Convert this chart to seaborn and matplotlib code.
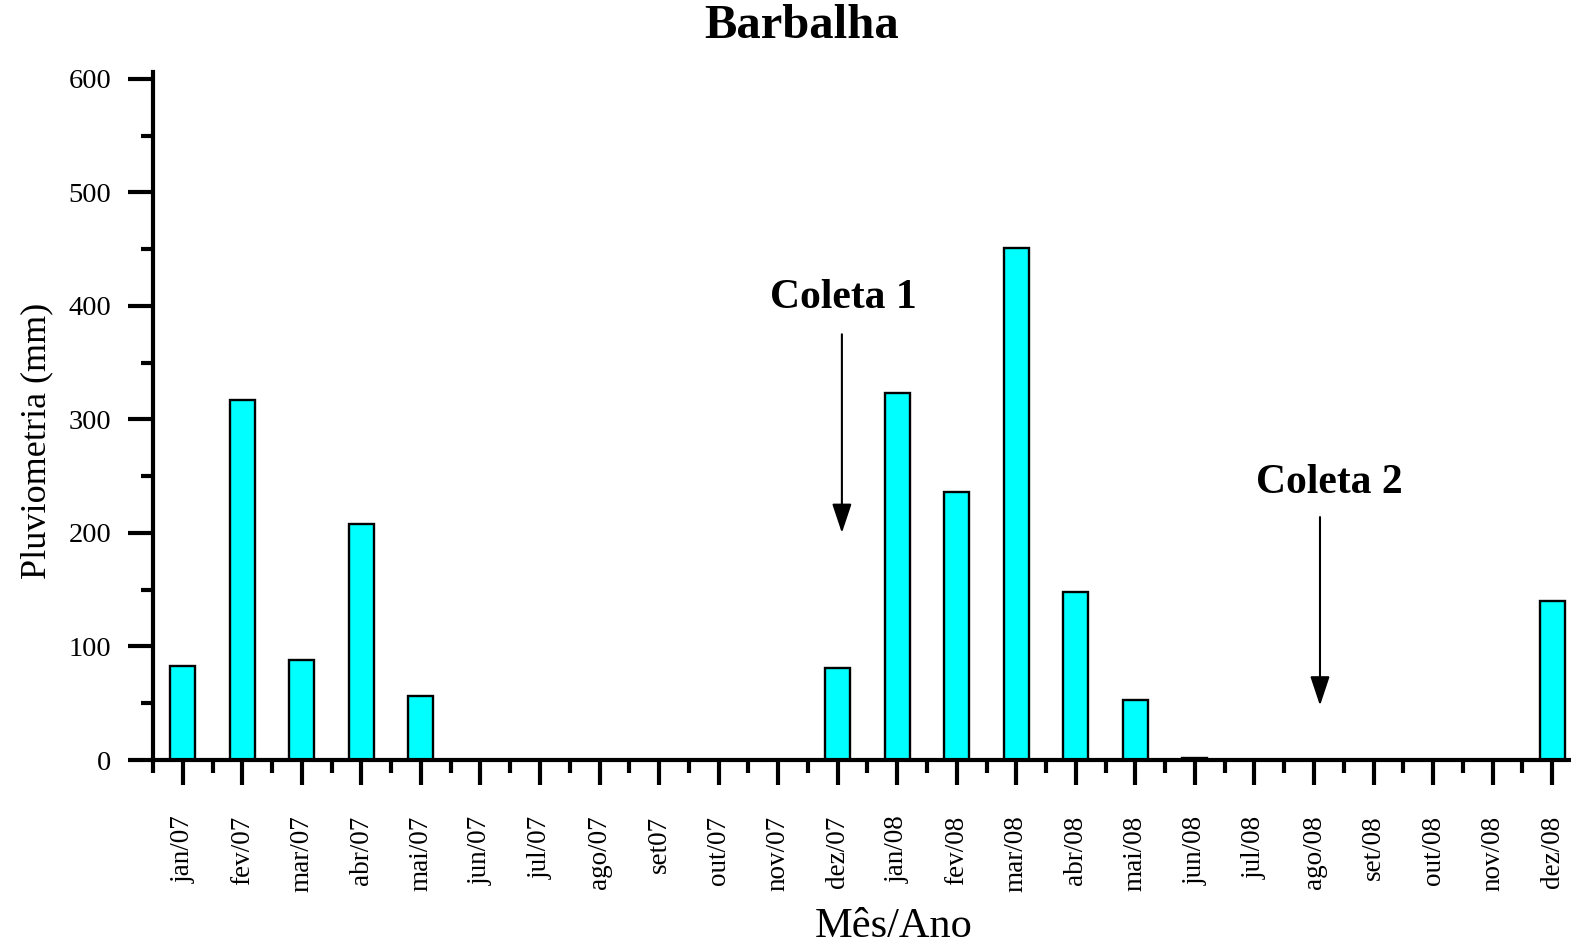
import matplotlib
matplotlib.use("Agg")
import matplotlib.pyplot as plt
import seaborn as sns
import pandas as pd
import numpy as np

months = ["jan/07", "fev/07", "mar/07", "abr/07", "mai/07", "jun/07", "jul/07", "ago/07",
          "set07", "out/07", "nov/07", "dez/07", "jan/08", "fev/08", "mar/08", "abr/08",
          "mai/08", "jun/08", "jul/08", "ago/08", "set/08", "out/08", "nov/08", "dez/08"]
rain_mm = [83, 317, 88, 208, 56, 0, 0, 0, 0, 0, 0, 81, 323, 236, 451, 148, 53, 2,
           0, 0, 0, 0, 0, 140]

annot_labels = ["Coleta 1", "Coleta 2"]
annot_x = [11.07, 19.1]
annot_text_x = [11.1, 19.25]
annot_tip_y = [200, 48]
annot_tail_y = [375, 214]
annot_text_y = [407, 244]

sns.set_theme(style="white")
plt.rcParams["font.family"] = ["Liberation Serif", "DejaVu Serif"]
plt.rcParams["text.color"] = "black"
plt.rcParams["axes.labelcolor"] = "black"
plt.rcParams["xtick.color"] = "black"
plt.rcParams["ytick.color"] = "black"

df = pd.DataFrame({"mes": months, "chuva": rain_mm})

fig = plt.figure(figsize=(15.71, 9.46), dpi=100)
ax = fig.add_axes([0.0974, 0.1966, 0.9020, 0.7273])

sns.barplot(data=df, x="mes", y="chuva", color="#00FFFF", saturation=1,
            edgecolor="black", linewidth=1.7, width=0.42, ax=ax)

ax.set_xlim(-0.5, 23.3)
ax.set_ylim(0, 606)
ax.set_yticks([0, 100, 200, 300, 400, 500, 600])
ax.set_yticks(np.arange(50, 600, 100), minor=True)
ax.set_xticks(range(len(months)))
ax.set_xticks(np.arange(-0.5, 23, 1.0), minor=True)
ax.set_xticklabels(months, rotation=90, fontsize=19.5, va="top", ha="center")
ax.tick_params(axis="y", labelsize=20.5)

for s in ["top", "right"]:
    ax.spines[s].set_visible(False)
for s in ["left", "bottom"]:
    ax.spines[s].set_linewidth(3)
    ax.spines[s].set_color("black")

ax.tick_params(which="major", direction="out", length=18, width=3, color="black",
               left=True, bottom=True)
ax.tick_params(which="minor", direction="out", length=9, width=3, color="black",
               left=True, bottom=True)
ax.tick_params(axis="y", which="major", pad=12)
ax.tick_params(axis="x", which="major", pad=22)

ax.set_xlabel("Mês/Ano", fontsize=30.5)
ax.set_ylabel("Pluviometria (mm)", fontsize=26)
ax.xaxis.label.set_va("center")
ax.yaxis.label.set_va("center")
ax.xaxis.set_label_coords(0.523, -0.243)
ax.yaxis.set_label_coords(-0.082, 0.464)

fig.text(0.5105, 0.973, "Barbalha", fontsize=35, fontweight="bold",
         ha="center", va="center")

for lab, x, tx, tip, tail, ty in zip(annot_labels, annot_x, annot_text_x,
                                     annot_tip_y, annot_tail_y, annot_text_y):
    ax.annotate("", xy=(x, tip), xytext=(x, tail),
                arrowprops=dict(arrowstyle="-|>,head_length=0.9,head_width=0.3",
                                mutation_scale=20, lw=1.5, color="black",
                                shrinkA=0, shrinkB=0))
    ax.text(tx, ty, lab, fontsize=30, fontweight="bold", ha="center", va="center")

fig.savefig("out.png", dpi=100, facecolor="white")
